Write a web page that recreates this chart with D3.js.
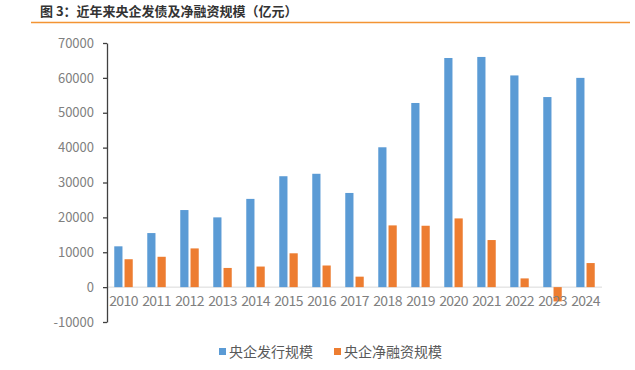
<!DOCTYPE html>
<html>
<head>
<meta charset="utf-8">
<script src="https://cdn.jsdelivr.net/npm/d3@7"></script>
<style>
  body { margin: 0; background: #fff; }
  text { font-family: "Microsoft YaHei", "Noto Sans CJK SC", sans-serif; }
</style>
</head>
<body>
<div id="container"></div>
<script>

// Data
const years = ["2010","2011","2012","2013","2014","2015","2016","2017","2018","2019","2020","2021","2022","2023","2024"];
const issuance = [11700, 15500, 22100, 20000, 25300, 31800, 32500, 27000, 40100, 52800, 65700, 66000, 60700, 54500, 60000];
const netFinancing = [8000, 8700, 11100, 5500, 5900, 9700, 6200, 3000, 17700, 17600, 19700, 13500, 2500, -4100, 6900];
const seriesNames = ["央企发行规模", "央企净融资规模"];
const yTicks = [-10000, 0, 10000, 20000, 30000, 40000, 50000, 60000, 70000];

const width = 635;
const height = 370;

const marginTop = 43;
const marginRight = 33;
const marginBottom = 48;
const marginLeft = 107;

const colors = ["#5b9bd5", "#ed7d31"];

const svg = d3.create("svg")
    .attr("width", width)
    .attr("height", height);

container.append(svg.node());

// Title and orange rule
svg.append("text")
    .attr("x", 40)
    .attr("y", 16)
    .attr("fill", "#333")
    .attr("font-size", 13)
    .attr("font-weight", "bold")
    .text("图 3：近年来央企发债及净融资规模（亿元）");

svg.append("line")
    .attr("x1", 31).attr("x2", 630)
    .attr("y1", 22.5).attr("y2", 22.5)
    .attr("stroke", "#f39433")
    .attr("stroke-width", 1.5);

// Scales
const x = d3.scaleBand()
    .domain(years)
    .range([marginLeft, width - marginRight])
    .paddingInner(0.44)
    .paddingOuter(0.22);

const xs = d3.scaleBand()
    .domain([0, 1])
    .range([0, x.bandwidth()])
    .paddingInner(0.2);

const y = d3.scaleLinear()
    .domain([-10000, 70000])
    .range([height - marginBottom, marginTop]);

// Zero line
svg.append("line")
    .attr("x1", marginLeft).attr("x2", width - marginRight)
    .attr("y1", y(0)).attr("y2", y(0))
    .attr("stroke", "#d9d9d9")
    .attr("stroke-width", 1);

// Bars
const groups = svg.append("g")
  .selectAll("g")
  .data(years)
  .join("g")
    .attr("transform", d => `translate(${x(d)},0)`);

groups.selectAll("rect")
  .data((d, i) => [issuance[i], netFinancing[i]])
  .join("rect")
    .attr("x", (d, j) => xs(j))
    .attr("width", xs.bandwidth())
    .attr("y", d => y(Math.max(0, d)))
    .attr("height", d => Math.abs(y(d) - y(0)))
    .attr("fill", (d, j) => colors[j]);

// Y axis
const yAxis = svg.append("g")
    .attr("transform", `translate(${marginLeft},0)`)
    .call(d3.axisLeft(y)
      .tickValues(yTicks)
      .tickFormat(d => String(d))
      .tickSize(4).tickSizeOuter(0).tickPadding(9));

yAxis.select(".domain").attr("stroke", "#404040").attr("stroke-width", 1.3);
yAxis.selectAll(".tick line").attr("stroke", "#404040").attr("stroke-width", 1.3);
yAxis.selectAll(".tick text")
    .attr("fill", "#808080")
    .attr("font-size", 13)
    .attr("font-family", "Arial, 'Liberation Sans', sans-serif");

// X labels
const xAxis = svg.append("g")
    .attr("transform", `translate(0,${y(0)})`)
    .call(d3.axisBottom(x).tickSize(0).tickPadding(9));

xAxis.select(".domain").remove();
xAxis.selectAll(".tick text")
    .attr("fill", "#808080")
    .attr("font-size", 14)
    .attr("font-family", "Arial, 'Liberation Sans', sans-serif")
    .attr("letter-spacing", -0.6);

// Legend
const legend = svg.append("g");
const legendX = [219, 334];
seriesNames.forEach((name, i) => {
  legend.append("rect")
    .attr("x", legendX[i])
    .attr("y", 348)
    .attr("width", 7)
    .attr("height", 7)
    .attr("fill", colors[i]);
  legend.append("text")
    .attr("x", legendX[i] + 10)
    .attr("y", 357)
    .attr("fill", "#595959")
    .attr("font-size", 14)
    .text(name);
});

</script>
</body>
</html>
